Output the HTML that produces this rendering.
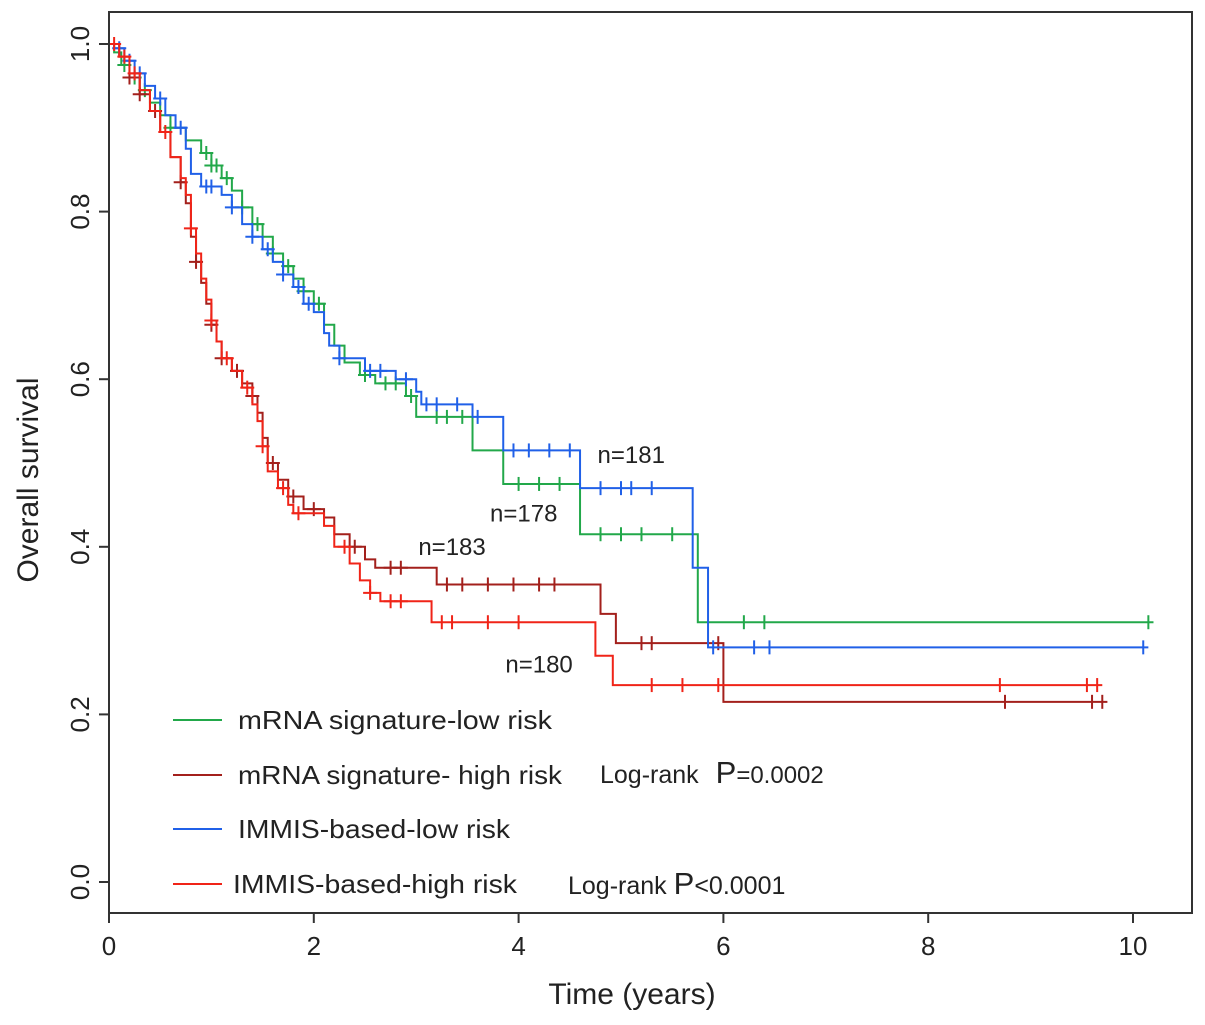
<!DOCTYPE html>
<html><head><meta charset="utf-8"><style>
html,body{margin:0;padding:0;background:#fff;}
svg{display:block;font-family:"Liberation Sans",Arial,sans-serif;}
</style></head><body>
<svg id="chart" width="1205" height="1025" viewBox="0 0 1205 1025" xmlns="http://www.w3.org/2000/svg">
<g id="plot"></g>
</svg>
<script>
// ---- data ----
const xTicks = [0, 2, 4, 6, 8, 10];
const yTicks = [0.0, 0.2, 0.4, 0.6, 0.8, 1.0];
const seriesNames = ["mRNA signature-low risk", "mRNA signature- high risk", "IMMIS-based-low risk", "IMMIS-based-high risk"];
const seriesColors = ["#22a84a", "#a3201c", "#2060e8", "#f02418"];
// step points [time, survival]
const greenSteps = [[0,1],[0.05,0.99],[0.12,0.975],[0.2,0.96],[0.3,0.945],[0.4,0.93],[0.5,0.915],[0.6,0.9],[0.75,0.885],[0.9,0.87],[1.0,0.855],[1.1,0.84],[1.2,0.825],[1.3,0.805],[1.4,0.785],[1.5,0.77],[1.6,0.75],[1.7,0.735],[1.8,0.72],[1.9,0.705],[2.0,0.69],[2.1,0.665],[2.2,0.64],[2.3,0.62],[2.45,0.605],[2.6,0.595],[2.9,0.58],[3.0,0.555],[3.55,0.515],[3.85,0.475],[4.6,0.415],[5.75,0.31],[10.2,0.31]];
const darkRedSteps = [[0,1],[0.1,0.985],[0.2,0.96],[0.3,0.94],[0.4,0.92],[0.5,0.895],[0.6,0.865],[0.7,0.835],[0.75,0.81],[0.8,0.77],[0.85,0.74],[0.9,0.715],[0.95,0.69],[1.0,0.665],[1.05,0.645],[1.1,0.625],[1.2,0.61],[1.3,0.595],[1.4,0.58],[1.45,0.56],[1.5,0.53],[1.55,0.5],[1.65,0.48],[1.75,0.46],[1.9,0.445],[2.1,0.435],[2.2,0.415],[2.35,0.4],[2.5,0.385],[2.6,0.375],[3.2,0.355],[4.8,0.32],[4.95,0.285],[6.0,0.215],[9.75,0.215]];
const blueSteps = [[0,1],[0.05,0.995],[0.15,0.98],[0.25,0.965],[0.35,0.95],[0.45,0.935],[0.55,0.915],[0.65,0.9],[0.75,0.875],[0.8,0.845],[0.9,0.83],[1.1,0.82],[1.2,0.805],[1.3,0.785],[1.4,0.77],[1.5,0.755],[1.6,0.74],[1.7,0.725],[1.8,0.71],[1.9,0.69],[2.0,0.68],[2.1,0.655],[2.15,0.64],[2.25,0.625],[2.5,0.61],[2.8,0.6],[3.0,0.585],[3.05,0.57],[3.55,0.555],[3.85,0.515],[4.6,0.47],[5.7,0.375],[5.85,0.28],[10.15,0.28]];
const redSteps = [[0,1],[0.1,0.985],[0.2,0.965],[0.3,0.945],[0.4,0.92],[0.5,0.895],[0.6,0.865],[0.7,0.84],[0.75,0.82],[0.8,0.78],[0.85,0.75],[0.9,0.72],[0.95,0.695],[1.0,0.67],[1.05,0.645],[1.1,0.625],[1.2,0.61],[1.3,0.59],[1.4,0.57],[1.45,0.55],[1.5,0.52],[1.55,0.49],[1.65,0.47],[1.75,0.45],[1.8,0.44],[2.1,0.425],[2.2,0.4],[2.35,0.38],[2.45,0.36],[2.55,0.345],[2.65,0.335],[3.15,0.31],[4.75,0.27],[4.92,0.235],[9.7,0.235]];
const greenCensor = [0.15,0.25,0.35,0.6,0.95,1.0,1.05,1.15,1.3,1.45,1.6,1.75,1.9,2.05,2.5,2.7,2.8,2.95,3.2,3.3,3.45,4.0,4.2,4.4,4.8,5.0,5.2,5.5,6.2,6.4,10.15];
const darkRedCensor = [0.2,0.3,0.45,0.7,0.85,1.0,1.1,1.25,1.4,1.6,1.8,2.0,2.4,2.75,2.85,3.3,3.45,3.7,3.95,4.2,4.35,5.2,5.3,5.95,8.75,9.6,9.7];
const blueCensor = [0.1,0.2,0.3,0.5,0.7,0.95,1.0,1.2,1.4,1.55,1.7,1.85,1.95,2.25,2.55,2.65,2.9,3.1,3.2,3.4,3.6,3.95,4.1,4.3,4.5,4.8,5.0,5.1,5.3,5.9,6.3,6.45,10.1];
const redCensor = [0.05,0.15,0.25,0.55,0.8,1.0,1.15,1.35,1.5,1.7,1.85,2.3,2.55,2.75,2.85,3.25,3.35,3.7,4.0,5.3,5.6,5.95,8.7,9.55,9.65];
const nLabels = ["n=178","n=183","n=181","n=180"];
const nLabelPos = [[4.05,0.43],[3.35,0.39],[5.1,0.5],[4.2,0.25]]; // data coords [time, survival]

// ---- axes ----
const X0 = 109, XS = 102.4;
const Y0 = 882, YS = 838;
const xs = t => X0 + t * XS;
const ys = v => Y0 - v * YS;
const NS = "http://www.w3.org/2000/svg";
const svg = document.getElementById('chart');
const plot = document.getElementById('plot');
function mk(tag, attrs, parent) {
  const e = document.createElementNS(NS, tag);
  for (const k in attrs) e.setAttribute(k, attrs[k]);
  (parent || svg).appendChild(e);
  return e;
}
const frame = mk('rect', {x:109, y:12, width:1083, height:901, fill:'none', stroke:'#333', 'stroke-width':2});


xTicks.forEach(t => {
  const l = mk('line', {x1:xs(t), x2:xs(t), y1:913, y2:923, stroke:'#333', 'stroke-width':2});
  
  
  const tx = mk('text', {x:xs(t), y:955, 'font-size':26, 'text-anchor':'middle', fill:'#222'});
  tx.textContent = t;
  
  
});
yTicks.forEach(v => {
  const l = mk('line', {x1:99, x2:109, y1:ys(v), y2:ys(v), stroke:'#333', 'stroke-width':2});
  
  
  const tx = mk('text', {x:0, y:0, 'font-size':26, 'text-anchor':'middle', fill:'#222', transform:`translate(89,${ys(v)}) rotate(-90)`});
  tx.textContent = v.toFixed(1);
  
  
});
const xt = mk('text', {x:632, y:1004, 'font-size':30, 'text-anchor':'middle', fill:'#222'});
xt.textContent = 'Time (years)';


const yt = mk('text', {x:0, y:0, 'font-size':30, 'text-anchor':'middle', fill:'#222', transform:'translate(38,480) rotate(-90)'});
yt.textContent = 'Overall survival';



// ---- curves ----
const allSteps = [greenSteps, darkRedSteps, blueSteps, redSteps];
const allCensor = [greenCensor, darkRedCensor, blueCensor, redCensor];
function survAt(steps, t) {
  let v = steps[0][1];
  for (const [tt, vv] of steps) { if (tt <= t) v = vv; else break; }
  return v;
}
[0,1,2,3].forEach(i => {
  const st = allSteps[i];
  let d = `M${xs(st[0][0])},${ys(st[0][1])}`;
  for (let k = 1; k < st.length; k++) {
    d += ` H${xs(st[k][0])} V${ys(st[k][1])}`;
  }
  const p = mk('path', {d, fill:'none', stroke:seriesColors[i], 'stroke-width':2}, plot);
  
  
  allCensor[i].forEach(t => {
    const v = survAt(st, t);
    const early = t < 3;
    const dd = early ? `M${xs(t)},${ys(v)-7} V${ys(v)+7} M${xs(t)-7},${ys(v)} H${xs(t)+7}` : `M${xs(t)},${ys(v)-7} V${ys(v)+7}`;
    const c = mk('path', {d:dd, stroke:seriesColors[i], 'stroke-width':2}, plot);
    
    
  });
  const nl = mk('text', {x:xs(nLabelPos[i][0]), y:ys(nLabelPos[i][1]), 'font-size':24, 'text-anchor':'middle', fill:'#222'}, plot);
  nl.textContent = nLabels[i];
  
  
});

// ---- legend ----
const legY = [720, 775, 829, 884];
const legX = [238, 238, 238, 233];
const legW = [314, 324, 272, 284];
seriesNames.forEach((nm, i) => {
  const l = mk('line', {x1:173, x2:222, y1:legY[i], y2:legY[i], stroke:seriesColors[i], 'stroke-width':2});
  
  
  const tx = mk('text', {x:legX[i], y:legY[i]+9, 'font-size':26, fill:'#222', textLength:legW[i], lengthAdjust:'spacingAndGlyphs'});
  tx.textContent = nm;
  
  
});
const lr1 = mk('text', {x:600, y:783, 'font-size':25, fill:'#222'});
lr1.innerHTML = 'Log-rank <tspan font-size="31" dx="10">P</tspan><tspan font-size="24">=0.0002</tspan>';


const lr2 = mk('text', {x:568, y:894, 'font-size':25, fill:'#222'});
lr2.innerHTML = 'Log-rank <tspan font-size="31">P</tspan><tspan font-size="25">&lt;0.0001</tspan>';


</script>
</body></html>
